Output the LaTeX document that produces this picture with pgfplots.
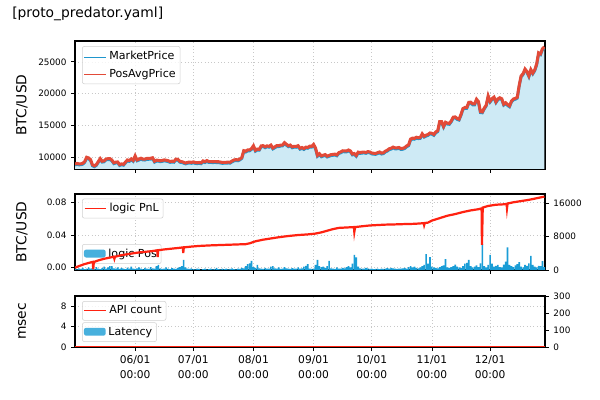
\documentclass[border=0pt]{standalone}
\usepackage{pgfplots}
\pgfplotsset{compat=1.18}
\usepackage{pgfplotstable}
\usepackage{fontspec}
\setmainfont{DejaVu Sans}
\definecolor{mblue}{RGB}{31,150,205}
\definecolor{fillblue}{RGB}{206,234,245}
\definecolor{pred}{RGB}{226,74,56}
\definecolor{pnlred}{RGB}{255,34,17}
\definecolor{posblue}{RGB}{26,157,214}
\definecolor{gridgray}{RGB}{200,200,200}

% BTC/USD daily price, day 0 = 05/01
\pgfplotstableread{
d p
0 8864
1 8989
2 8897
3 8912
4 9003
5 9268
6 9951
7 9842
8 9593
9 8756
10 8601
11 8804
12 9269
13 9733
14 9328
15 9377
16 9670
17 9726
18 9729
19 9522
20 9081
21 9182
22 9210
23 8791
24 8906
25 8835
26 9181
27 9525
28 9439
29 9700
30 9461
31 10167
32 9529
33 9656
34 9800
35 9665
36 9653
37 9758
38 9771
39 9795
40 9870
41 9321
42 9480
43 9475
44 9386
45 9450
46 9538
47 9480
48 9411
49 9288
50 9332
51 9303
52 9648
53 9629
54 9313
55 9264
56 9162
57 9045
58 9143
59 9190
60 9137
61 9228
62 9123
63 9087
64 9132
65 9073
66 9375
67 9252
68 9428
69 9277
70 9278
71 9240
72 9277
73 9243
74 9243
75 9192
76 9132
77 9151
78 9159
79 9185
80 9164
81 9374
82 9525
83 9581
84 9536
85 9677
86 9905
87 10990
88 10912
89 11100
90 11111
91 11323
92 11759
93 11053
94 11246
95 11205
96 11747
97 11779
98 11601
99 11754
100 11675
101 11878
102 11410
103 11584
104 11784
105 11768
106 11865
107 11892
108 12254
109 11991
110 11758
111 11878
112 11592
113 11681
114 11664
115 11774
116 11366
117 11488
118 11323
119 11542
120 11507
121 11711
122 11680
123 11970
124 11414
125 10245
126 10511
127 10169
128 10280
129 10370
130 10131
131 10242
132 10364
133 10400
134 10442
135 10323
136 10680
137 10796
138 10974
139 10948
140 10944
141 11094
142 10938
143 10463
144 10538
145 10246
146 10760
147 10692
148 10750
149 10775
150 10709
151 10844
152 10784
153 10619
154 10575
155 10550
156 10676
157 10788
158 10604
159 10668
160 10915
161 11064
162 11296
163 11384
164 11555
165 11425
166 11429
167 11495
168 11322
169 11358
170 11483
171 11742
172 11916
173 12823
174 12965
175 12931
176 13108
177 13031
178 13075
179 13654
180 13271
181 13437
182 13546
183 13781
184 13737
185 13550
186 13950
187 14133
188 15579
189 15565
190 14833
191 15479
192 15332
193 15290
194 15701
195 16276
196 16317
197 16068
198 15955
199 16716
200 17645
201 17804
202 17817
203 18621
204 18642
205 18370
206 18364
207 19107
208 18732
209 17150
210 17108
211 17717
212 18177
213 19625
214 18802
215 19201
216 19445
217 18699
218 19154
219 19345
220 19191
221 18321
222 18553
223 18264
224 18058
225 18803
226 19142
227 19246
228 19417
229 21310
230 22805
231 23137
232 23869
233 23477
234 22803
235 23783
236 23241
237 23735
238 24664
239 26437
240 26272
241 27084
242 27362
}\price

% logic PnL (BTC)
\pgfplotstableread{
d v
0 0.0000
2 0.0020
5 0.0045
8 0.0065
9.2 0.0072
9.4 -0.0020
9.7 0.0070
12 0.0090
15 0.0110
18 0.0125
20 0.0135
20.3 0.0110
20.6 0.0135
24 0.0155
28 0.0170
32 0.0185
36 0.0195
40 0.0205
42.4 0.0215
42.6 0.0130
42.9 0.0215
46 0.0225
50 0.0235
54 0.0245
55.6 0.0250
55.8 0.0180
56.1 0.0250
60 0.0260
64 0.0268
70 0.0275
76 0.0280
82 0.0285
88 0.0290
90 0.0300
93 0.0325
97 0.0345
101 0.0360
105 0.0375
110 0.0390
115 0.0402
120 0.0410
124 0.0420
127 0.0435
130 0.0455
133 0.0475
136 0.0490
140 0.0495
143.8 0.0500
144 0.0440
144.4 0.0500
148 0.0510
152 0.0520
156 0.0525
160 0.0530
165 0.0533
170 0.0537
175 0.0540
179.8 0.0548
180 0.0525
180.3 0.0550
182 0.0555
184 0.0580
188 0.0610
192 0.0640
196 0.0660
200 0.0685
204 0.0705
208 0.0720
209.6 0.0730
209.8 0.0280
210.2 0.0740
213 0.0760
217 0.0775
221 0.0780
222.5 0.0785
222.7 0.0730
223 0.0790
226 0.0805
230 0.0820
234 0.0835
238 0.0855
242 0.0875
}\pnl

% logic Pos
\pgfplotstableread{
d v
0 300
1 150
2 400
3 250
4 500
5 200
6 350
7 600
8 300
9 450
10 250
11 700
12 300
13 200
14 450
15 800
16 350
17 600
18 900
19 950
20 400
21 300
22 650
23 250
24 500
25 300
26 200
27 550
28 350
29 800
30 300
31 250
32 400
33 600
34 300
35 200
36 500
37 350
38 250
39 700
40 400
41 300
42 900
43 1200
44 400
45 250
46 350
47 600
48 300
49 200
50 450
51 350
52 250
53 500
54 700
55 900
56 2400
57 600
58 300
59 250
60 400
61 200
62 150
63 300
64 250
65 100
66 200
67 350
68 150
69 200
70 300
71 150
72 250
73 500
74 200
75 150
76 300
77 200
78 350
79 150
80 250
81 400
82 200
83 150
84 300
85 250
86 500
87 400
88 900
89 1400
90 1600
91 2150
92 700
93 500
94 1200
95 400
96 300
97 250
98 500
99 350
100 300
101 800
102 900
103 400
104 300
105 600
106 250
107 350
108 700
109 400
110 300
111 250
112 450
113 350
114 300
115 600
116 350
117 400
118 800
119 1000
120 1400
121 350
122 250
123 300
124 1200
125 2400
126 900
127 700
128 800
129 500
130 900
131 2150
132 400
133 300
134 250
135 600
136 350
137 300
138 500
139 400
140 700
141 900
142 600
143 1500
144 3600
145 3000
146 800
147 400
148 350
149 300
150 500
151 400
152 250
153 300
154 200
155 250
156 300
157 200
158 350
159 250
160 300
161 450
162 350
163 500
164 400
165 300
166 250
167 350
168 300
169 400
170 500
171 350
172 700
173 900
174 600
175 800
176 500
177 400
178 600
179 900
180 1200
181 3800
182 1500
183 3100
184 800
185 600
186 500
187 400
188 700
189 900
190 1100
191 2600
192 600
193 500
194 700
195 900
196 1300
197 800
198 600
199 500
200 900
201 1500
202 1700
203 2400
204 900
205 600
206 800
207 1100
208 700
209 1600
210 6200
211 900
212 600
213 1200
214 3600
215 1500
216 800
217 1000
218 1200
219 700
220 600
221 1300
222 2000
223 5400
224 1200
225 900
226 700
227 1100
228 1400
229 1900
230 800
231 600
232 1200
233 1000
234 1600
235 3400
236 1200
237 800
238 600
239 1000
240 900
241 2100
242 700
}\pos

\pgfplotsset{
  base/.style={
    scale only axis, width=4.70in,
    xmin=0, xmax=242.3,
    xtick={31,61,92,123,153,184,214},
    scaled ticks=false,
    tick align=outside, major tick length=2.6pt,
    tick style={black, line width=0.6pt},
    axis line style={black, line width=0.8pt},
    /pgf/number format/assume math mode=true,
    tick label style={font=\fontsize{6.4}{7.5}\selectfont},
    xtick pos=bottom, ytick pos=left,
    grid style={gridgray, dotted, line width=0.5pt},
    legend cell align=left,
    legend style={draw=black!18, rounded corners=1.5pt, fill=white,
      fill opacity=0.8, text opacity=1, draw opacity=1,
      font=\fontsize{8}{9.5}\selectfont, inner sep=1.2pt, row sep=1.5pt},
    every axis y label/.style={at={(axis description cs:-0.1128,0.5)}, rotate=90, anchor=center,
      font=\fontsize{10}{12}\selectfont},
  },
}

\begin{document}
\begin{tikzpicture}
\useasboundingbox (0,0) rectangle (6in,4in);
\node[anchor=west, font=\fontsize{10}{12}\selectfont, inner sep=0pt] at (0.12in,3.86in) {[proto\_predator.yaml]};

% ---------- top panel ----------
\begin{axis}[base, at={(0.75in,2.31in)}, anchor=south west, height=1.28in,
  ymin=8100, ymax=28300, ytick={10000,15000,20000,25000},
  yticklabels={10000,15000,20000,25000},
  xticklabels={}, grid=major, ylabel={BTC/USD},
  legend style={at={(axis description cs:0.015,0.96)}, anchor=north west}]
\addplot[fill=fillblue, draw=none, forget plot] table[x=d,y=p]{\price} \closedcycle;
\addplot[mblue, line width=2.0pt, yshift=-0.7pt,
  legend image code/.code={\draw[mblue, line width=0.7pt] (0cm,0cm) -- (0.55cm,0cm);}]
  table[x=d,y=p]{\price};
\addlegendentry{MarketPrice}
\addplot[pred, line width=2.2pt,
  legend image code/.code={\draw[pred, line width=0.7pt] (0cm,0cm) -- (0.55cm,0cm);}]
  table[x=d,y=p]{\price};
\addlegendentry{PosAvgPrice}
\end{axis}

% ---------- middle panel ----------
\begin{axis}[base, at={(0.75in,1.30in)}, anchor=south west, height=0.76in,
  ymin=-0.0028, ymax=0.0907, ytick={0,0.04,0.08}, yticklabels={0.00,0.04,0.08},
  xticklabels={}, grid=major, ylabel={BTC/USD}]
\end{axis}
\begin{axis}[base, at={(0.75in,1.30in)}, anchor=south west, height=0.76in,
  ymin=0, ymax=18150, axis y line*=right, axis x line=none,
  ytick pos=right, ytick={0,8000,16000}, yticklabels={0,8000,16000},
  legend style={at={(axis description cs:0.015,0.08)}, anchor=south west}]
\addplot[ybar, bar width=0.85, fill=posblue, draw=none,
  legend image code/.code={\fill[posblue] (0cm,-0.09cm) rectangle (0.55cm,0.11cm);}]
  table[x=d,y=v]{\pos};
\addlegendentry{logic Pos}
\end{axis}
\begin{axis}[base, at={(0.75in,1.30in)}, anchor=south west, height=0.76in,
  ymin=-0.0028, ymax=0.0907, hide axis,
  legend style={at={(axis description cs:0.015,0.94)}, anchor=north west}]
\addplot[pnlred, line width=1.6pt,
  legend image code/.code={\draw[pnlred, line width=0.8pt] (0cm,0cm) -- (0.55cm,0cm);}]
  table[x=d,y=v]{\pnl};
\addlegendentry{logic PnL}
\end{axis}

% ---------- bottom panel ----------
\begin{axis}[base, at={(0.75in,0.53in)}, anchor=south west, height=0.51in,
  ymin=0, ymax=10, ytick={0,4,8}, yticklabels={0,4,8},
  grid=major, ylabel={msec},
  xticklabels={{06/01\\00:00},{07/01\\00:00},{08/01\\00:00},{09/01\\00:00},{10/01\\00:00},{11/01\\00:00},{12/01\\00:00}},
  xticklabel style={align=center, font=\fontsize{7.7}{10.8}\selectfont},
  legend style={at={(axis description cs:0.015,0.10)}, anchor=south west}]
\addplot[ybar, bar width=0.85, fill=posblue, draw=none,
  legend image code/.code={\fill[posblue] (0cm,-0.09cm) rectangle (0.55cm,0.11cm);}]
  coordinates {(0,0) (242,0)};
\addlegendentry{Latency}
\end{axis}
\begin{axis}[base, at={(0.75in,0.53in)}, anchor=south west, height=0.51in,
  ymin=0, ymax=300, axis y line*=right, axis x line=none,
  ytick pos=right, ytick={0,100,200,300}, yticklabels={0,100,200,300},
  legend style={at={(axis description cs:0.015,0.90)}, anchor=north west}]
\addplot[pnlred, line width=1.6pt,
  legend image code/.code={\draw[pnlred, line width=0.7pt] (0cm,0cm) -- (0.55cm,0cm);}]
  coordinates {(0,0) (242.3,0)};
\addlegendentry{API count}
\end{axis}
\end{tikzpicture}
\end{document}
